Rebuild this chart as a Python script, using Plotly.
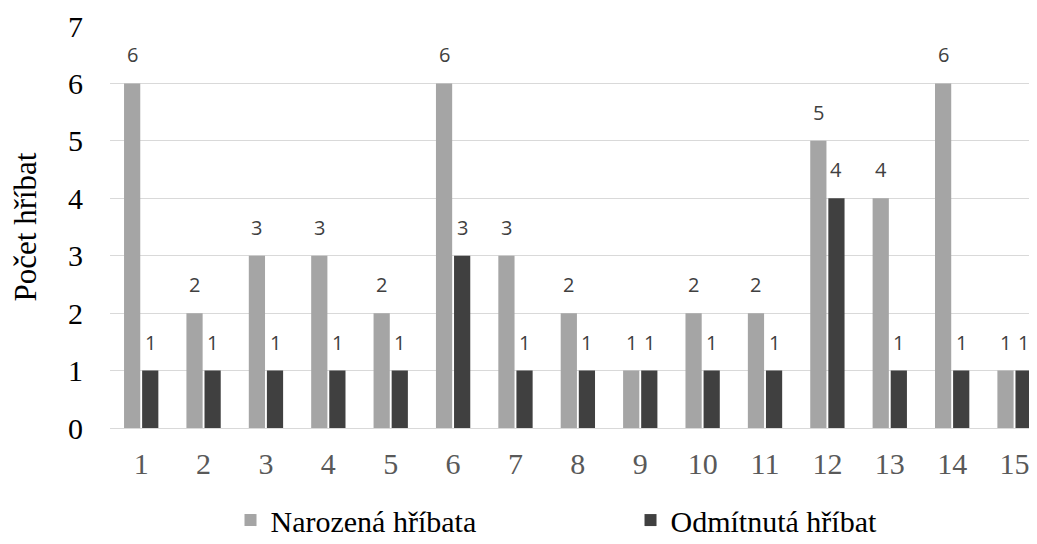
import plotly.graph_objects as go

categories = list(range(1, 16))
narozena = [6, 2, 3, 3, 2, 6, 3, 2, 1, 2, 2, 5, 4, 6, 1]
odmitnuta = [1, 1, 1, 1, 1, 3, 1, 1, 1, 1, 1, 4, 1, 1, 1]
series_names = ["Narozená hříbata", "Odmítnutá hříbat"]
y_title = "Počet hříbat"

GRAY = "#A5A5A5"
DARK = "#404040"
SERIF = "Liberation Serif"
SANS = "Open Sans, Liberation Sans, sans-serif"
W = 0.26
OFF_A = -0.275
OFF_B = 0.015

fig = go.Figure()
fig.add_trace(go.Bar(x=categories, y=narozena, name=series_names[0],
                     marker=dict(color=GRAY, line=dict(width=0)),
                     width=W, offset=OFF_A))
fig.add_trace(go.Bar(x=categories, y=odmitnuta, name=series_names[1],
                     marker=dict(color=DARK, line=dict(width=0)),
                     width=W, offset=OFF_B))

annos = []
for c, a, b in zip(categories, narozena, odmitnuta):
    for val, off in ((a, OFF_A), (b, OFF_B)):
        annos.append(dict(x=c + off + W / 2, y=val, xref="x", yref="y",
                          text=str(val), showarrow=False, yanchor="bottom",
                          yshift=13,
                          font=dict(family=SANS, size=20, color="#404040")))

fig.update_layout(
    width=1029, height=536,
    font=dict(family=SERIF),
    margin=dict(l=102, r=0, t=18, b=116, autoexpand=False),
    paper_bgcolor="white", plot_bgcolor="white",
    barmode="overlay",
    annotations=annos,
    showlegend=True,
    legend=dict(orientation="h", x=0.13, xanchor="left", y=-0.229, yanchor="middle",
                entrywidth=355, entrywidthmode="pixels",
                font=dict(family=SERIF, size=30, color="#000000"),
                itemsizing="constant", traceorder="normal"),
    xaxis=dict(range=[0.5, 15.36], tickmode="array", tickvals=categories,
               ticktext=[str(c) for c in categories], showgrid=False,
               showline=False, zeroline=False, ticks="", ticklabelstandoff=15,
               automargin=False,
               tickfont=dict(family=SERIF, size=30, color="#595959")),
    yaxis=dict(range=[0, 7], dtick=1, showgrid=True, gridcolor="#D9D9D9", gridwidth=1.3,
               zeroline=True, zerolinecolor="#D9D9D9", zerolinewidth=1.3,
               ticks="", ticklabelstandoff=26, automargin=False,
               tickfont=dict(family=SERIF, size=30, color="#000000"),
               title=dict(text=y_title, standoff=33,
                          font=dict(family=SERIF, size=31, color="#000000"))),
)

fig.write_html("out.html")
